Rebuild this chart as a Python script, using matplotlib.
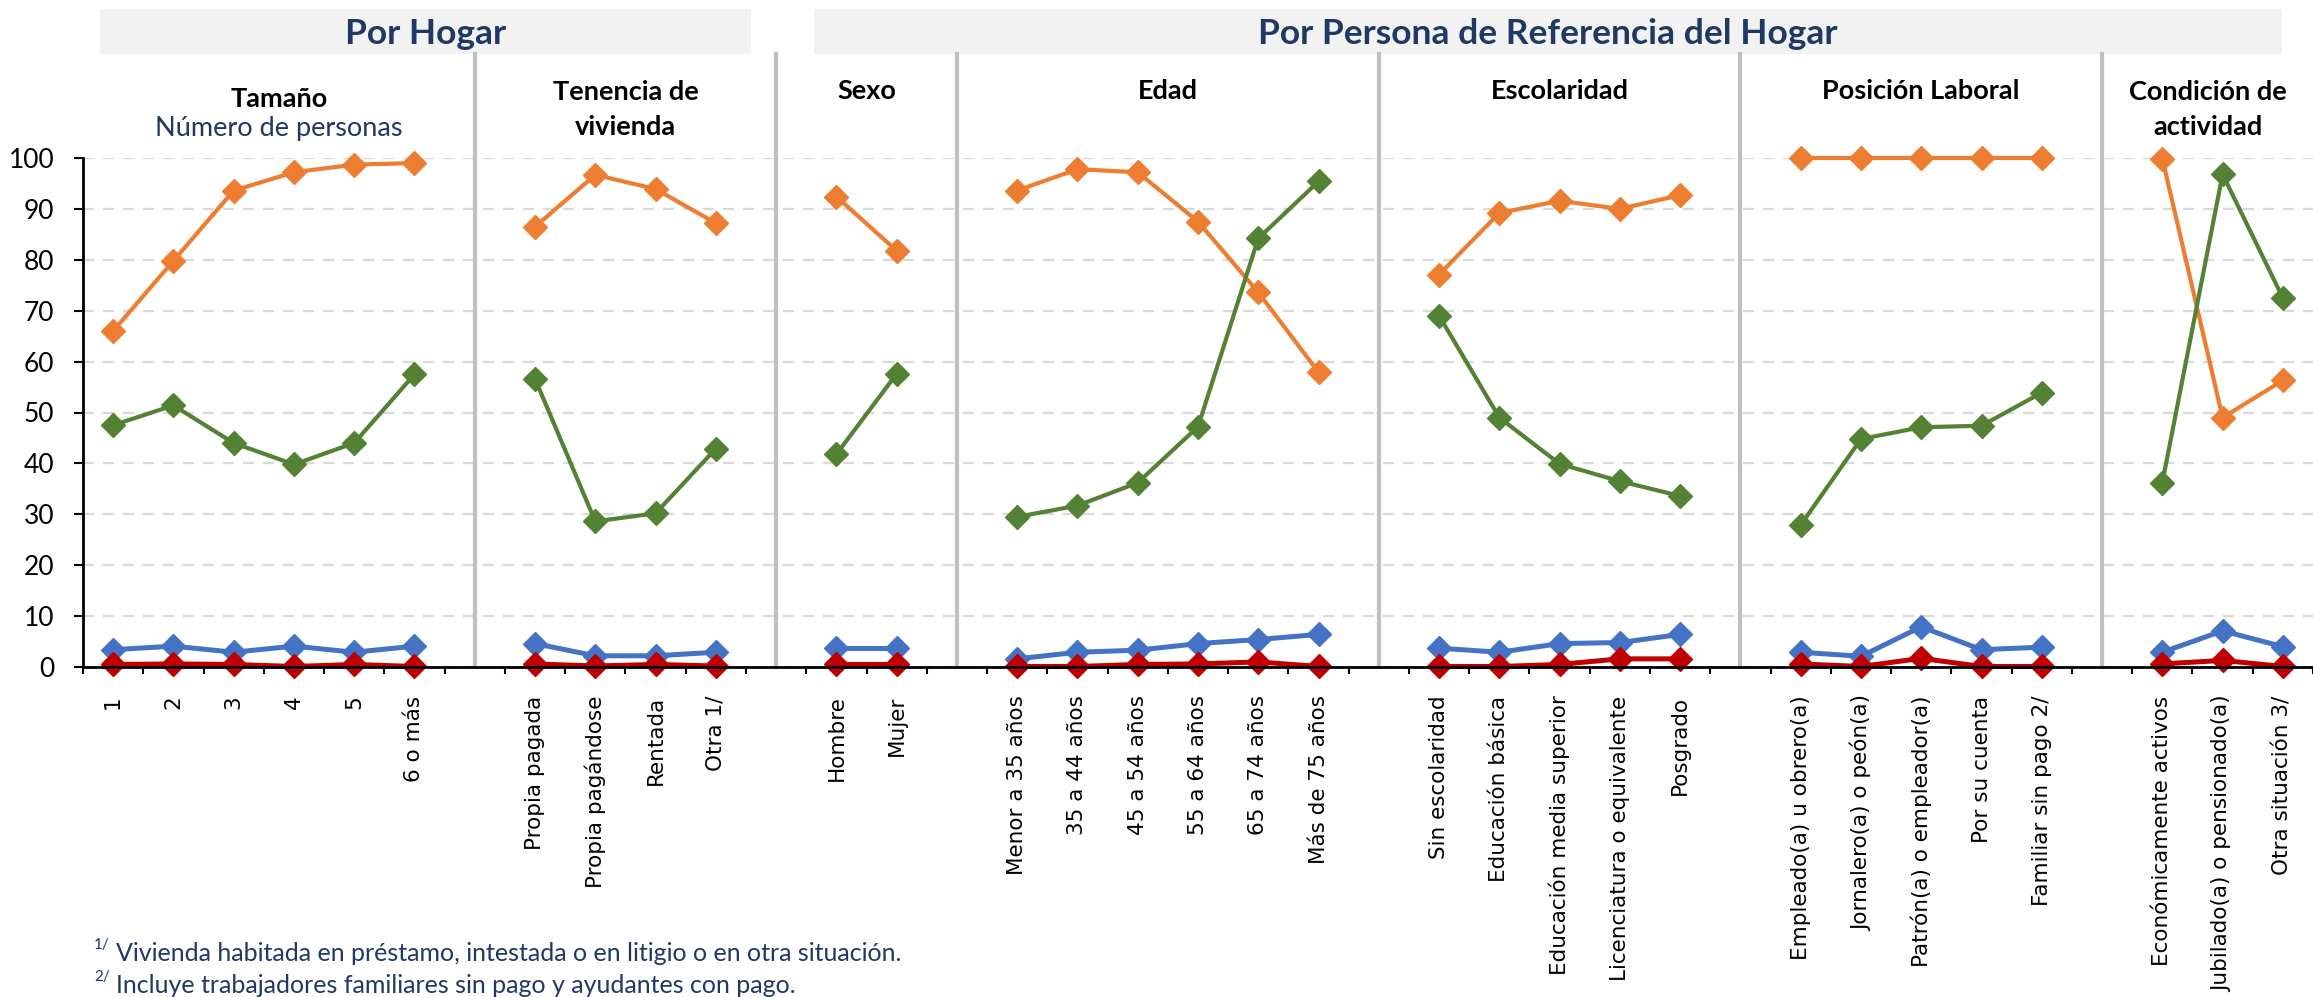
import matplotlib
matplotlib.use("Agg")
import matplotlib.pyplot as plt
from matplotlib.patches import Rectangle
from matplotlib.transforms import blended_transform_factory
import numpy as np

plt.rcParams['font.family'] = ['Lato', 'DejaVu Sans']

# ---------------- data ----------------
group_titles = ["Tamaño", "Tenencia de\nvivienda", "Sexo", "Edad", "Escolaridad",
                "Posición Laboral", "Condición de\nactividad"]
cat_tamano = ["1", "2", "3", "4", "5", "6 o más"]
cat_tenencia = ["Propia pagada", "Propia pagándose", "Rentada", "Otra 1/"]
cat_sexo = ["Hombre", "Mujer"]
cat_edad = ["Menor a 35 años", "35 a 44 años", "45 a 54 años", "55 a 64 años",
            "65 a 74 años", "Más de 75 años"]
cat_escolaridad = ["Sin escolaridad", "Educación básica", "Educación media superior",
                   "Licenciatura o equivalente", "Posgrado"]
cat_posicion = ["Empleado(a) u obrero(a)", "Jornalero(a) o peón(a)",
                "Patrón(a) o empleador(a)", "Por su cuenta", "Familiar sin pago 2/"]
cat_condicion = ["Económicamente activos", "Jubilado(a) o pensionado(a)",
                 "Otra situación 3/"]

# series values, in category order (all groups concatenated)
serie_naranja = [66.0, 79.8, 93.6, 97.2, 98.7, 99.0,
                 86.5, 96.7, 93.9, 87.2,
                 92.4, 81.8,
                 93.6, 97.8, 97.2, 87.5, 73.6, 57.9,
                 77.1, 89.2, 91.6, 90.0, 92.7,
                 100.0, 100.0, 100.0, 100.0, 100.0,
                 99.9, 49.0, 56.3]
serie_verde = [47.5, 51.4, 44.0, 39.8, 44.0, 57.5,
               56.6, 28.6, 30.2, 42.9,
               41.8, 57.6,
               29.5, 31.7, 36.2, 47.2, 84.2, 95.4,
               69.0, 49.0, 39.9, 36.5, 33.6,
               27.9, 44.8, 47.1, 47.4, 53.9,
               36.2, 96.8, 72.5]
serie_azul = [3.4, 4.1, 2.9, 4.1, 2.9, 4.1,
              4.6, 2.2, 2.2, 2.9,
              3.7, 3.7,
              1.6, 2.9, 3.3, 4.6, 5.4, 6.4,
              3.7, 2.9, 4.6, 4.8, 6.4,
              2.9, 2.1, 7.9, 3.4, 3.9,
              2.9, 7.1, 4.0]
serie_roja = [0.5, 0.6, 0.5, 0.1, 0.5, 0.1,
              0.6, 0.2, 0.5, 0.2,
              0.5, 0.5,
              0.1, 0.1, 0.5, 0.6, 1.0, 0.1,
              0.1, 0.1, 0.5, 1.6, 1.6,
              0.6, 0.1, 1.7, 0.1, 0.1,
              0.6, 1.3, 0.1]
yticks = list(range(0, 101, 10))
header_left = "Por Hogar"
header_right = "Por Persona de Referencia del Hogar"
subtitle_tamano = "Número de personas"
footnotes = [("1/", "Vivienda habitada en préstamo, intestada o en litigio o en otra situación."),
             ("2/", "Incluye trabajadores familiares sin pago y ayudantes con pago.")]

# ---------------- layout ----------------
W, H = 2313, 997
fig = plt.figure(figsize=(W / 100, H / 100), dpi=100)
ax_l, ax_r, ax_t, ax_b = 83, 2313, 158, 667
ax = fig.add_axes([ax_l / W, 1 - ax_b / H, (ax_r - ax_l) / W, (ax_b - ax_t) / H])

def ay(py):
    return (ax_b - py) / (ax_b - ax_t)

groups = [cat_tamano, cat_tenencia, cat_sexo, cat_edad, cat_escolaridad,
          cat_posicion, cat_condicion]

positions, labels, spans, seps = [], [], [], []
start = 0
idx = 0
for gi, cats in enumerate(groups):
    n = len(cats)
    xs = list(range(start, start + n))
    spans.append((idx, idx + n, xs))
    positions += xs
    labels += cats
    idx += n
    start += n
    if gi < len(groups) - 1:
        seps.append(start)
    start += 1
nslots = start - 1

colors = {"naranja": "#ED7D31", "verde": "#548235", "azul": "#4472C4", "roja": "#C00000"}
series = [(serie_naranja, colors["naranja"], 3.0),
          (serie_verde, colors["verde"], 3.0),
          (serie_azul, colors["azul"], 3.6),
          (serie_roja, colors["roja"], 3.6)]

for vals, col, lw in series:
    for i0, i1, xs in spans:
        ax.plot(xs, vals[i0:i1], color=col, lw=lw, marker="D", ms=12.5,
                mfc=col, mec=col, clip_on=False, zorder=4)

ax.set_xlim(-0.5, nslots - 0.5)
ax.set_ylim(0, 100)

# grid
ax.set_yticks(yticks)
ax.yaxis.grid(True, color="#D9D9D9", lw=1.6, linestyle=(0, (5, 4)), zorder=0)
ax.set_axisbelow(True)

# spines
for s in ["top", "right"]:
    ax.spines[s].set_visible(False)
ax.spines["left"].set_linewidth(2)
ax.spines["bottom"].set_linewidth(2)
ax.spines["left"].set_zorder(5)
ax.spines["bottom"].set_zorder(5)

ax.tick_params(axis="y", direction="out", length=6.5, width=1.5, pad=14,
               labelsize=19)

ax.set_xticks(positions)
ax.set_xticklabels(labels, rotation=90, fontsize=15.5, family="DejaVu Sans", va="top")
ax.tick_params(axis="x", which="major", length=0, pad=20.5)
ax.set_xticks(np.arange(-0.5, nslots, 1.0), minor=True)
ax.tick_params(axis="x", which="minor", direction="out", length=5, width=1.5)

trans = blended_transform_factory(ax.transData, ax.transAxes)

# separators
for s in seps:
    ax.plot([s, s], [0, ay(54)], color="#BFBFBF", lw=3, transform=trans,
            clip_on=False, zorder=1)

# headers
box_y0, box_y1 = ay(54), ay(9)
box_specs = [(-0.22, seps[1] - 0.42, header_left),
             (seps[1] + 0.63, nslots - 1.02, header_right)]
for x0, x1, txt in box_specs:
    ax.add_patch(Rectangle((x0, box_y0), x1 - x0, box_y1 - box_y0, transform=trans,
                           facecolor="#F2F2F2", edgecolor="none", clip_on=False,
                           zorder=0))
    ax.text((x0 + x1) / 2, (box_y0 + box_y1) / 2 - 0.005, txt, transform=trans,
            ha="center", va="center", fontsize=25.5, fontweight="bold",
            color="#1F3864")

# panel titles
bounds = [-0.5] + seps + [nslots - 0.5]
tkw = dict(transform=trans, ha="center", va="center", fontsize=19.5,
           fontweight="bold", color="black")
for i, title in enumerate(group_titles):
    cx = (bounds[i] + bounds[i + 1]) / 2
    lines = title.split("\n")
    if i == 0:
        ax.text(cx, ay(99), lines[0], **tkw)
        ax.text(cx, ay(128), subtitle_tamano, transform=trans, ha="center",
                va="center", fontsize=19.5, color="#1F3864")
    elif len(lines) == 2:
        ax.text(cx, ay(92), lines[0], **tkw)
        ax.text(cx, ay(127), lines[1], **tkw)
    else:
        ax.text(cx, ay(91), lines[0], **tkw)

# footnotes
for (sup, txt), py in zip(footnotes, [953, 985]):
    fig.text(94 / W, 1 - (py - 8) / H, sup, fontsize=11, color="#1F3864",
             ha="left", va="center")
    fig.text(116 / W, 1 - py / H, txt, fontsize=18, color="#1F3864",
             ha="left", va="center")

fig.savefig("out.png", dpi=100)
